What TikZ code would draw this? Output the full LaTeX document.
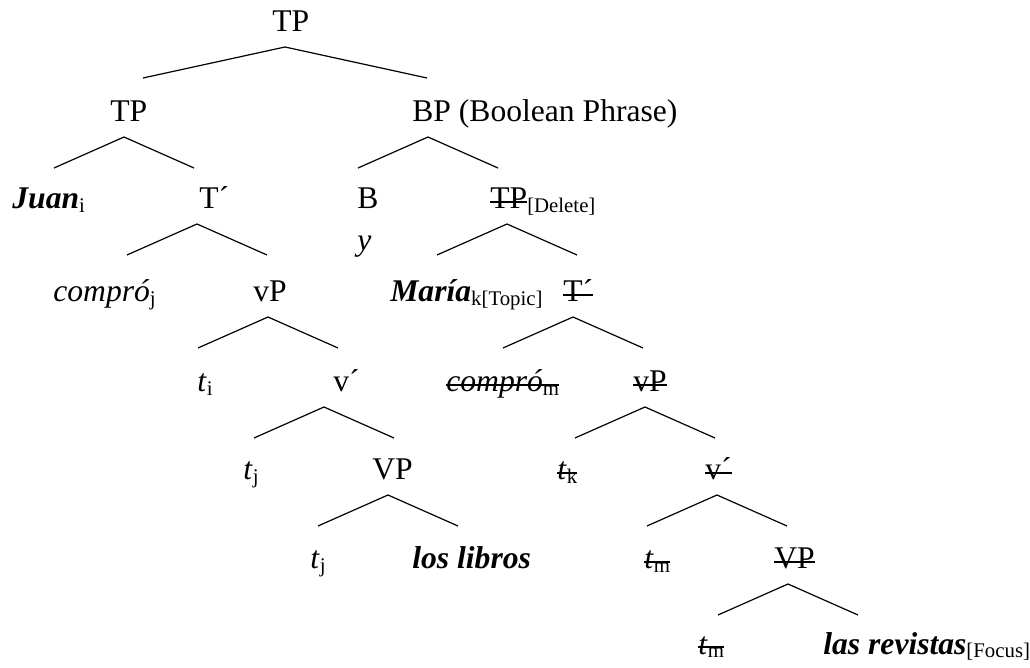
\documentclass[tikz,border=0pt]{standalone}
\usepackage{fontspec}
\setmainfont{Liberation Serif}
\usetikzlibrary{calc}

\newcommand{\sub}[1]{\raisebox{-0.1em}{\fontsize{10.4}{12}\selectfont #1}}
\newcommand{\struck}[1]{\leavevmode\setbox0=\hbox{#1}\rlap{\rule[0.2em]{\wd0}{0.055em}}\box0}
\newcommand{\fork}[3][70]{\draw[branch] ($(#2.base west)+(#3-#1,46)$) -- ($(#2.base west)+(#3,15)$) -- ($(#2.base west)+(#3+#1,46)$);}

\begin{document}
\begin{tikzpicture}[
  x=0.5pt, y=-0.5pt,
  word/.style = {anchor=base west, inner sep=0pt, font=\fontsize{15.8}{19}\selectfont},
  branch/.style = {line width=0.6pt}
]
  \useasboundingbox (0,0) rectangle (1030,668);

  % Nodes
  \node[word] (root) at (272,32) {TP};
  \node[word] (tpa) at (110,122) {TP};
  \node[word] (bp) at (412,122) {BP (Boolean Phrase)};
  \node[word] (juan) at (12,209) {\textbf{\textit{Juan}}\sub{i}};
  \node[word] (tbar) at (199,209) {T´};
  \node[word] (bhead) at (357,209) {B};
  \node[word] (conj) at (357,251) {\textit{y}};
  \node[word] (tpdel) at (490,209) {\struck{TP}\sub{[Delete]}};
  \node[word] (compro) at (53,302) {\textit{compró}\sub{j}};
  \node[word] (vp) at (253,302) {vP};
  \node[word] (maria) at (390,302) {\textbf{\textit{María}}\sub{k[Topic]}};
  \node[word] (tbardel) at (563,302) {\struck{T´}};
  \node[word] (ti) at (197,392) {\textit{t}\sub{i}};
  \node[word] (vbar) at (333,392) {v´};
  \node[word] (comprodel) at (446,392) {\struck{\textit{compró}\sub{m}}};
  \node[word] (vpdel) at (633,392) {\struck{vP}};
  \node[word] (tj) at (243,480) {\textit{t}\sub{j}};
  \node[word] (vpbig) at (372,480) {VP};
  \node[word] (tk) at (557,480) {\struck{\textit{t}\sub{k}}};
  \node[word] (vbardel) at (705,480) {\struck{v´}};
  \node[word] (tjlow) at (310,569) {\textit{t}\sub{j}};
  \node[word] (libros) at (412,569) {\textbf{\textit{los libros}}};
  \node[word] (tm) at (644,569) {\struck{\textit{t}\sub{m}}};
  \node[word] (vpbigdel) at (774,569) {\struck{VP}};
  \node[word] (tmlow) at (698,654) {\struck{\textit{t}\sub{m}}};
  \node[word] (revistas) at (823,654) {\textbf{\textit{las revistas}}\sub{[Focus]}};

  % Branches
  \fork[142]{root}{13}
  \fork{tpa}{14}
  \fork{bp}{16}
  \fork{tbar}{-2}
  \fork{tpdel}{17}
  \fork{vp}{15}
  \fork{tbardel}{10}
  \fork{vbar}{-9}
  \fork{vpdel}{12}
  \fork{vpbig}{16}
  \fork{vbardel}{12}
  \fork{vpbigdel}{14}

\end{tikzpicture}
\end{document}
